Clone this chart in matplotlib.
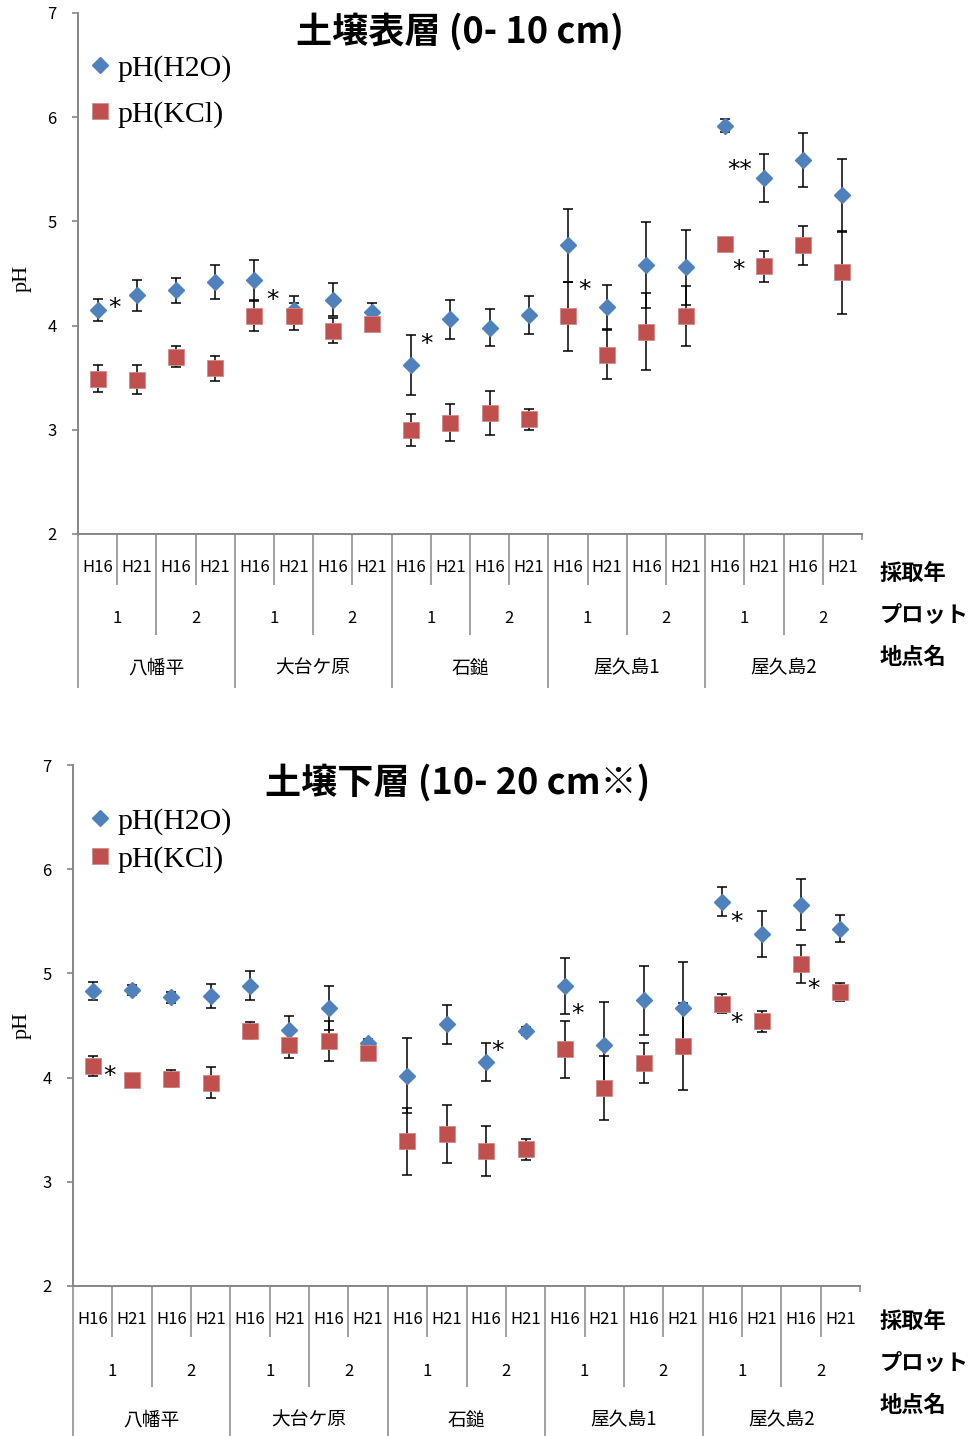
import numpy as np
import matplotlib
matplotlib.use("Agg")
import matplotlib.pyplot as plt
import matplotlib.transforms as mtrans
from matplotlib.font_manager import FontProperties

plt.rcParams['font.family'] = ['Noto Sans CJK JP', 'DejaVu Sans']

# ---------------- data ----------------
years = ['H16', 'H21']
plots = ['1', '2']
sites = ['八幡平', '大台ケ原', '石鎚', '屋久島1', '屋久島2']
row_titles = ['採取年', 'プロット', '地点名']
series_names = ['pH(H2O)', 'pH(KCl)']

top_title = '土壌表層 (0- 10 cm)'
top_h2o = [4.15, 4.29, 4.34, 4.42, 4.44, 4.15, 4.25, 4.13, 3.62, 4.06,
           3.98, 4.10, 4.77, 4.18, 4.58, 4.56, 5.92, 5.42, 5.59, 5.25]
top_h2o_sd = [0.11, 0.15, 0.12, 0.16, 0.19, 0.13, 0.16, 0.09, 0.29, 0.185,
              0.175, 0.18, 0.35, 0.21, 0.41, 0.36, 0.06, 0.23, 0.26, 0.35]
top_kcl = [3.49, 3.48, 3.70, 3.59, 4.09, 4.09, 3.95, 4.02, 3.00, 3.07,
           3.16, 3.10, 4.09, 3.72, 3.94, 4.09, 4.78, 4.57, 4.77, 4.51]
top_kcl_sd = [0.13, 0.14, 0.10, 0.12, 0.145, 0.13, 0.12, 0.05, 0.155, 0.18,
              0.21, 0.10, 0.33, 0.235, 0.37, 0.29, 0.03, 0.15, 0.19, 0.40]
top_sig_x = [0.44, 4.45, 8.40, 12.43, 16.39, 16.34]
top_sig_y = [4.245, 4.32, 3.90, 4.41, 5.57, 4.61]
top_sig_t = ['*', '*', '*', '*', '**', '*']

bot_title = '土壌下層 (10- 20 cm※)'
bot_h2o = [4.83, 4.84, 4.77, 4.78, 4.88, 4.46, 4.67, 4.33, 4.02, 4.51,
           4.15, 4.45, 4.88, 4.31, 4.74, 4.67, 5.69, 5.38, 5.66, 5.43]
bot_h2o_sd = [0.085, 0.05, 0.05, 0.115, 0.14, 0.13, 0.21, 0.04, 0.36, 0.185,
              0.18, 0.04, 0.27, 0.42, 0.33, 0.44, 0.14, 0.22, 0.245, 0.13]
bot_kcl = [4.11, 3.98, 3.99, 3.95, 4.45, 4.31, 4.35, 4.24, 3.39, 3.46,
           3.30, 3.31, 4.27, 3.90, 4.14, 4.30, 4.71, 4.54, 5.09, 4.82]
bot_kcl_sd = [0.095, 0.03, 0.08, 0.15, 0.08, 0.12, 0.19, 0.04, 0.32, 0.275,
              0.24, 0.10, 0.27, 0.31, 0.195, 0.42, 0.09, 0.10, 0.185, 0.085]
bot_sig_x = [0.44, 10.30, 12.33, 16.35, 16.35, 18.33]
bot_sig_y = [4.09, 4.33, 4.68, 5.57, 4.60, 4.92]
bot_sig_t = ['*', '*', '*', '*', '*', '*']

# ---------------- style ----------------
BLUE = '#4F81BD'
RED = '#C0504D'
GRAY = '#868686'
W, H = 973, 1436
PT = 0.72  # points per pixel at dpi 100

fig = plt.figure(figsize=(W / 100, H / 100), dpi=100)


def add_ax(left, right, top, bottom):
    return fig.add_axes([left / W, 1 - bottom / H, (right - left) / W, (bottom - top) / H])


def panel(ax, ax_px, h2o, h2o_sd, kcl, kcl_sd, sx, sy, st, title, title_xy,
          leg_xy, leg_spacing, ylab_y, rowlab_y):
    left, right, top, bottom = ax_px
    ax_h = bottom - top
    n = len(h2o)
    x = np.arange(n)

    ax.errorbar(x, h2o, yerr=h2o_sd, fmt='none', ecolor='black', elinewidth=1.1,
                capsize=3.6, capthick=1.1, zorder=2)
    ax.plot(x, h2o, ls='none', marker='D', ms=8.4, color=BLUE, mec=BLUE,
            zorder=3, label=series_names[0])
    ax.errorbar(x, kcl, yerr=kcl_sd, fmt='none', ecolor='black', elinewidth=1.1,
                capsize=3.6, capthick=1.1, zorder=2)
    ax.plot(x, kcl, ls='none', marker='s', ms=11.3, color=RED, mec='#D08A88',
            mew=0.6, zorder=4, label=series_names[1])

    for xx, yy, tt in zip(sx, sy, st):
        ax.annotate(tt, (xx, yy), xytext=(0, -10.5), textcoords='offset points',
                    ha='center', va='baseline', fontsize=18,
                    family=['DejaVu Sans'], color='black', zorder=5)

    ax.set_xlim(-0.5, n - 0.5)
    ax.set_ylim(2, 7)
    ax.set_yticks(range(2, 8))
    ax.set_xticks([])
    for s in ['top', 'right']:
        ax.spines[s].set_visible(False)
    for s in ['left', 'bottom']:
        ax.spines[s].set_color(GRAY)
        ax.spines[s].set_linewidth(1.4)
    ax.tick_params(axis='y', direction='out', length=4.5, width=1.2, color=GRAY,
                   labelsize=12, pad=11)

    # multi-level category axis
    xt = ax.get_xaxis_transform()
    for i in range(n + 1):
        b = -0.5 + i
        if i == n:
            depth = 6
        elif i % 4 == 0:
            depth = 154
        elif i % 2 == 0:
            depth = 101
        else:
            depth = 51
        ax.plot([b, b], [0, -depth / ax_h], transform=xt, color=GRAY,
                lw=1.1, clip_on=False, solid_capstyle='butt')

    def row_tr(dy_px):
        return mtrans.offset_copy(xt, fig=fig, x=0, y=-dy_px * PT, units='points')

    for i in range(n):
        ax.text(i, 0, years[i % 2], transform=row_tr(34), ha='center', va='center',
                fontsize=12)
    for j in range(n // 2):
        ax.text(2 * j + 0.5, 0, plots[j % 2], transform=row_tr(85), ha='center',
                va='center', fontsize=12)
    for k in range(n // 4):
        ax.text(4 * k + 1.5, 0, sites[k], transform=row_tr(134), ha='center',
                va='center', fontsize=13.5)

    for t, yy in zip(row_titles, rowlab_y):
        fig.text(880 / W, 1 - yy / H, t, ha='left', va='center', fontsize=16,
                 fontweight='bold')

    fig.text(title_xy[0] / W, 1 - title_xy[1] / H, title, ha='center', va='center',
             fontsize=26, fontweight='bold')

    fig.text(22 / W, 1 - ylab_y / H, 'pH', rotation=90, ha='center', va='center',
             family=['Liberation Serif'], fontsize=16)

    lx = (leg_xy[0] - left) / (right - left)
    ly = 1 - (leg_xy[1] - top) / ax_h
    ax.legend(loc='upper left', bbox_to_anchor=(lx, ly), frameon=False,
              prop=FontProperties(family='Liberation Serif', size=21.5),
              handlelength=0.8, handletextpad=0.2, borderpad=0, borderaxespad=0,
              labelspacing=leg_spacing, numpoints=1)


ax1_px = (78, 862, 13, 534)
ax2_px = (73, 860, 765, 1286)
ax1 = add_ax(*ax1_px)
ax2 = add_ax(*ax2_px)

panel(ax1, ax1_px, top_h2o, top_h2o_sd, top_kcl, top_kcl_sd,
      top_sig_x, top_sig_y, top_sig_t, top_title, (460, 32),
      (88, 55), 0.63, 278, (573, 615, 657))
panel(ax2, ax2_px, bot_h2o, bot_h2o_sd, bot_kcl, bot_kcl_sd,
      bot_sig_x, bot_sig_y, bot_sig_t, bot_title, (458, 783),
      (88, 808), 0.36, 1025, (1321, 1363, 1405))

fig.savefig('out.png', dpi=100)
